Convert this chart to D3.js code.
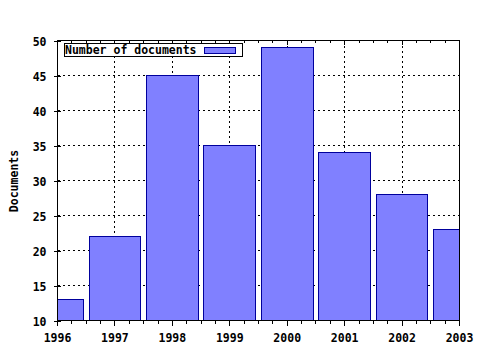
<!DOCTYPE html>
<html>
<head>
<meta charset="utf-8">
<script src="https://cdn.jsdelivr.net/npm/d3@7"></script>
<style>
  body { margin: 0; background: #fff; }
  text { font-family: "DejaVu Sans Mono", monospace; font-weight: bold; font-size: 11.5px; fill: #000; }
</style>
</head>
<body>
<svg width="480" height="350"></svg>
<script>
(function (d3) {
  'use strict';

  const years = [1996, 1997, 1998, 1999, 2000, 2001, 2002, 2003];
  const documents = [13, 22, 45, 35, 49, 34, 28, 23];
  const yTicks = [10, 15, 20, 25, 30, 35, 40, 45, 50];
  const seriesName = 'Number of documents';

  const svg = d3.select('svg');

  const left = 57.5, right = 459.5, top = 40.5, bottom = 320.5;

  const x = d3.scaleLinear().domain([1996, 2003]).range([left, right]);
  const y = d3.scaleLinear().domain([10, 50]).range([bottom, top]);

  // quarter-year minor ticks
  const minor = d3.range(1996, 2003.001, 0.25);

  svg.append('clipPath').attr('id', 'plot')
    .append('rect')
      .attr('x', left).attr('y', top)
      .attr('width', right - left).attr('height', bottom - top);

  // grid
  const grid = svg.append('g')
    .attr('stroke', '#000')
    .attr('stroke-dasharray', '2,3')
    .attr('shape-rendering', 'crispEdges');

  grid.selectAll('.hg')
    .data(yTicks.slice(1, -1))
    .join('line')
      .attr('x1', left).attr('x2', right)
      .attr('y1', d => y(d)).attr('y2', d => y(d));

  grid.selectAll('.vg')
    .data(years.slice(1, -1))
    .join('line')
      .attr('x1', d => x(d)).attr('x2', d => x(d))
      .attr('y1', top).attr('y2', bottom);

  // bars
  const barHalf = 0.45;
  svg.append('g')
    .attr('clip-path', 'url(#plot)')
    .selectAll('rect')
    .data(years)
    .join('rect')
      .attr('x', d => x(d - barHalf))
      .attr('width', d => x(d + barHalf) - x(d - barHalf))
      .attr('y', (d, i) => y(documents[i]))
      .attr('height', (d, i) => y(10) - y(documents[i]))
      .attr('fill', '#8080ff')
      .attr('stroke', '#00009c')
      .attr('stroke-width', 1)
      .attr('shape-rendering', 'crispEdges');

  // frame
  svg.append('rect')
    .attr('x', left).attr('y', top)
    .attr('width', right - left).attr('height', bottom - top)
    .attr('fill', 'none')
    .attr('stroke', '#000')
    .attr('shape-rendering', 'crispEdges');

  // top ticks (inward)
  svg.append('g')
    .attr('stroke', '#000')
    .attr('shape-rendering', 'crispEdges')
    .selectAll('line')
    .data(minor)
    .join('line')
      .attr('x1', d => x(d)).attr('x2', d => x(d))
      .attr('y1', top).attr('y2', d => top + (d % 1 === 0 ? 4 : 2));

  // bottom ticks (outward)
  svg.append('g')
    .attr('stroke', '#000')
    .attr('shape-rendering', 'crispEdges')
    .selectAll('line')
    .data(minor)
    .join('line')
      .attr('x1', d => x(d)).attr('x2', d => x(d))
      .attr('y1', bottom).attr('y2', d => bottom + (d % 1 === 0 ? 5 : 3));

  // bottom labels
  svg.append('g')
    .selectAll('text')
    .data(years)
    .join('text')
      .attr('x', d => x(d))
      .attr('y', 341.5)
      .attr('text-anchor', 'middle')
      .text(d => d);

  // left axis
  const yAxis = svg.append('g')
    .attr('transform', `translate(${left},0)`)
    .call(d3.axisLeft(y).tickValues(yTicks).tickSize(4).tickPadding(7).tickSizeOuter(0));
  yAxis.select('.domain').remove();
  yAxis.selectAll('line').attr('shape-rendering', 'crispEdges').attr('x2', -4).attr('x1', 3);
  yAxis.selectAll('text')
    .attr('dy', null)
    .attr('dominant-baseline', null)
    .attr('y', 4.5)
    .style('font-family', '"DejaVu Sans Mono", monospace')
    .style('font-size', '11.5px')
    .style('font-weight', 'bold');
  yAxis.attr('font-family', null).attr('font-size', null);

  // y title
  svg.append('text')
    .attr('transform', 'translate(17.5,181) rotate(-90)')
    .attr('text-anchor', 'middle')
    .text('Documents');

  // legend
  const lg = svg.append('g');
  lg.append('rect')
    .attr('x', 64.5).attr('y', 43.5)
    .attr('width', 178).attr('height', 13)
    .attr('fill', '#fff')
    .attr('stroke', '#000')
    .attr('shape-rendering', 'crispEdges');
  lg.append('text')
    .attr('x', 65)
    .attr('y', 54)
    .text(seriesName);
  lg.append('rect')
    .attr('x', 204.5).attr('y', 47.5)
    .attr('width', 31).attr('height', 6)
    .attr('fill', '#8080ff')
    .attr('stroke', '#00009c')
    .attr('shape-rendering', 'crispEdges');

}(d3));
</script>
</body>
</html>
